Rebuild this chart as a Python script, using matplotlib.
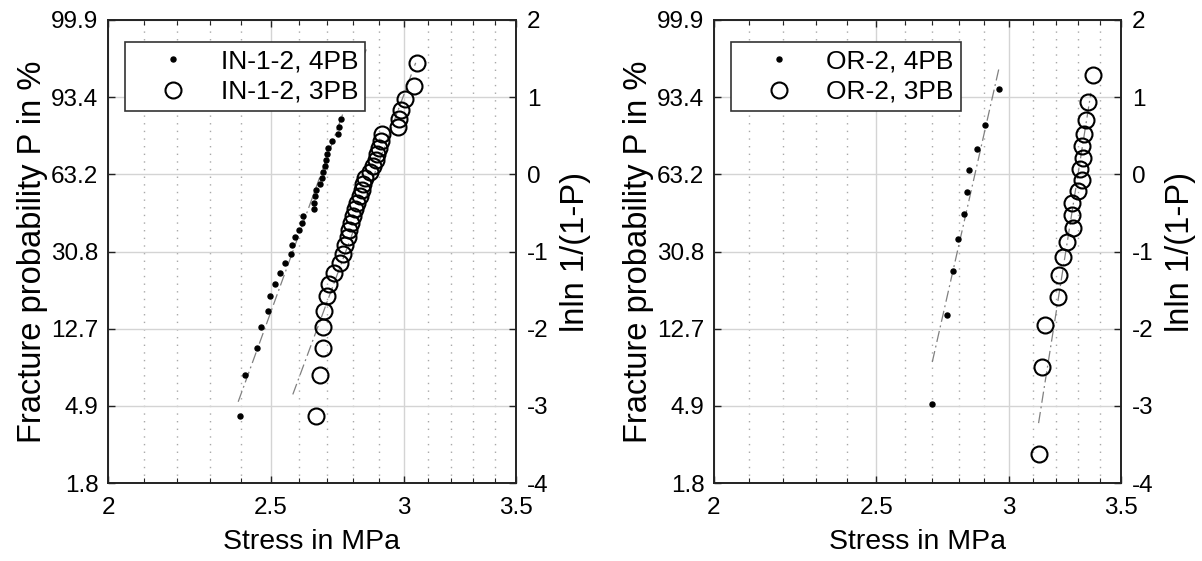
import numpy as np
import matplotlib
matplotlib.use("Agg")
import matplotlib.pyplot as plt
from matplotlib.ticker import FixedLocator, FixedFormatter, NullFormatter

plt.rcParams['font.family'] = ['Liberation Sans', 'DejaVu Sans']
plt.rcParams['font.size'] = 16

# ---- IN-1-2 specimens (stress in MPa, lnln 1/(1-P)) ----
in_4pb_stress = [2.397, 2.413, 2.454, 2.468, 2.491, 2.498, 2.516, 2.533, 2.551, 2.572,
                 2.574, 2.586, 2.599, 2.609, 2.613, 2.653, 2.654, 2.658, 2.661, 2.676,
                 2.681, 2.687, 2.692, 2.697, 2.699, 2.706, 2.719, 2.743, 2.747, 2.753]
in_4pb_lnln = [-3.128, -2.602, -2.250, -1.983, -1.766, -1.583, -1.422, -1.279, -1.150, -1.031,
               -0.920, -0.817, -0.719, -0.626, -0.536, -0.450, -0.367, -0.285, -0.205, -0.127,
               -0.049, 0.029, 0.107, 0.186, 0.266, 0.347, 0.432, 0.521, 0.616, 0.719]

in_3pb_stress = [2.661, 2.676, 2.687, 2.687, 2.690, 2.701, 2.709, 2.727, 2.748, 2.759,
                 2.768, 2.778, 2.785, 2.791, 2.797, 2.805, 2.814, 2.824, 2.832, 2.838,
                 2.847, 2.863, 2.875, 2.887, 2.893, 2.900, 2.908, 2.912, 2.978, 2.983,
                 2.989, 3.004, 3.043, 3.054]
in_3pb_lnln = [-3.128, -2.602, -2.250, -1.983, -1.766, -1.583, -1.422, -1.279, -1.150, -1.031,
               -0.920, -0.817, -0.719, -0.626, -0.536, -0.450, -0.367, -0.285, -0.205, -0.127,
               -0.049, 0.029, 0.107, 0.186, 0.266, 0.347, 0.432, 0.521, 0.616, 0.719,
               0.834, 0.970, 1.147, 1.447]

# ---- OR-2 specimens ----
or_4pb_stress = [2.700, 2.757, 2.780, 2.799, 2.822, 2.834, 2.841, 2.872, 2.903, 2.960]
or_4pb_lnln = [-2.97, -1.82, -1.25, -0.84, -0.51, -0.23, 0.05, 0.33, 0.64, 1.10]

or_3pb_stress = [3.125, 3.139, 3.152, 3.209, 3.213, 3.231, 3.251, 3.278, 3.272, 3.274,
                 3.299, 3.319, 3.310, 3.322, 3.319, 3.325, 3.334, 3.345, 3.368]
or_3pb_lnln = [-3.624, -2.498, -1.958, -1.592, -1.308, -1.074, -0.871, -0.689, -0.522, -0.367,
               -0.218, -0.073, 0.070, 0.215, 0.364, 0.526, 0.707, 0.932, 1.291]

# Weibull fits: modulus m, characteristic strength s0, stress range of the fit line
in_fit_m = [26.0, 25.5]
in_fit_s0 = [2.678, 2.882]
in_fit_lo = [2.391, 2.577]
in_fit_hi = [2.85, 3.05]

or_fit_m = [41.5, 59.5]
or_fit_s0 = [2.863, 3.299]
or_fit_lo = [2.700, 3.125]
or_fit_hi = [2.960, 3.358]

# Axis ticks and labels
x_major = [2.0, 2.5, 3.0, 3.5]
x_major_labels = ["2", "2.5", "3", "3.5"]
x_minor = [2.1, 2.2, 2.3, 2.4, 2.6, 2.7, 2.8, 2.9, 3.1, 3.2, 3.3, 3.4]
y_ticks = [-4, -3, -2, -1, 0, 1, 2]
p_labels = ["1.8", "4.9", "12.7", "30.8", "63.2", "93.4", "99.9"]
lnln_labels = ["-4", "-3", "-2", "-1", "0", "1", "2"]

TICK_FS = 17.5
XLABEL_FS = 20.5
YLABEL_FS = 23.5
LEGEND_FS = 19

W, H = 1202, 561
fig = plt.figure(figsize=(W / 100, H / 100), dpi=100)

GRID_C = '#d4d4d4'
FIT_C = '#808080'


def fit_line(ax, m, s0, lo, hi):
    s = np.geomspace(lo, hi, 50)
    ax.plot(s, m * (np.log(s) - np.log(s0)), color=FIT_C, lw=0.9,
            dashes=(9, 3, 1.5, 3), zorder=3)


def panel(rect, s4, y4, s3, y3, ms, s0s, los, his, names):
    ax = fig.add_axes(rect)
    ax.set_xscale('log')
    ax.set_xlim(2.0, 3.5)
    ax.set_ylim(-4, 2)

    ax.xaxis.set_major_locator(FixedLocator(x_major))
    ax.xaxis.set_major_formatter(FixedFormatter(x_major_labels))
    ax.xaxis.set_minor_locator(FixedLocator(x_minor))
    ax.xaxis.set_minor_formatter(NullFormatter())
    ax.set_yticks(y_ticks)
    ax.set_yticklabels(p_labels)

    ax.grid(True, which='major', color=GRID_C, lw=1.0, ls='-', zorder=0)
    ax.grid(True, which='minor', axis='x', color='#a8a8a8', lw=1.0,
            ls=(0, (1, 4.5)), zorder=0)
    ax.set_axisbelow(True)

    ax.tick_params(which='both', direction='in', top=True, bottom=True,
                   left=True, right=False, color='#222222')
    ax.tick_params(which='major', length=5, width=1)
    ax.tick_params(which='minor', length=3.5, width=0.8)
    ax.tick_params(axis='x', which='major', pad=10, labelsize=TICK_FS)
    ax.tick_params(axis='y', which='major', pad=7, labelsize=TICK_FS)

    for sp in ax.spines.values():
        sp.set_color('#222222')
        sp.set_linewidth(1.2)

    for m, s0, lo, hi in zip(ms, s0s, los, his):
        fit_line(ax, m, s0, lo, hi)

    h4, = ax.plot(s4, y4, ls='none', marker='o', ms=3.6, mfc='black', mec='black',
                  label=names[0], zorder=4)
    h3, = ax.plot(s3, y3, ls='none', marker='o', ms=11.5, mfc='none', mec='black',
                  mew=1.5, label=names[1], zorder=4)

    ax.set_xlabel("Stress in MPa", fontsize=XLABEL_FS, labelpad=7)
    ax.set_ylabel("Fracture probability P in %", fontsize=YLABEL_FS, labelpad=2)

    leg = ax.legend(handles=[h4, h3], loc='upper left',
                    bbox_to_anchor=(17 / 408, 441 / 463), borderaxespad=0,
                    fancybox=False, framealpha=1, edgecolor='#333333',
                    fontsize=LEGEND_FS, handlelength=3.08, handletextpad=0.26,
                    borderpad=0.28, labelspacing=0.25)
    leg.get_frame().set_linewidth(1.2)
    leg.set_zorder(10)

    ax2 = ax.twinx()
    ax2.set_ylim(-4, 2)
    ax2.set_yticks(y_ticks)
    ax2.set_yticklabels(lnln_labels)
    ax2.tick_params(direction='in', length=5, width=1, pad=8, labelsize=TICK_FS,
                    color='#222222')
    for sp in ax2.spines.values():
        sp.set_color('#222222')
        sp.set_linewidth(1.2)
    ax2.set_ylabel("lnln 1/(1-P)", fontsize=YLABEL_FS, labelpad=8)
    return ax, ax2


bottom = (H - 483) / H
height = 463 / H

panel([108 / W, bottom, 408 / W, height],
      in_4pb_stress, in_4pb_lnln, in_3pb_stress, in_3pb_lnln,
      in_fit_m, in_fit_s0, in_fit_lo, in_fit_hi,
      ["IN-1-2, 4PB", "IN-1-2, 3PB"])

panel([714 / W, bottom, 407 / W, height],
      or_4pb_stress, or_4pb_lnln, or_3pb_stress, or_3pb_lnln,
      or_fit_m, or_fit_s0, or_fit_lo, or_fit_hi,
      ["OR-2, 4PB", "OR-2, 3PB"])

fig.savefig("out.png", dpi=100)
